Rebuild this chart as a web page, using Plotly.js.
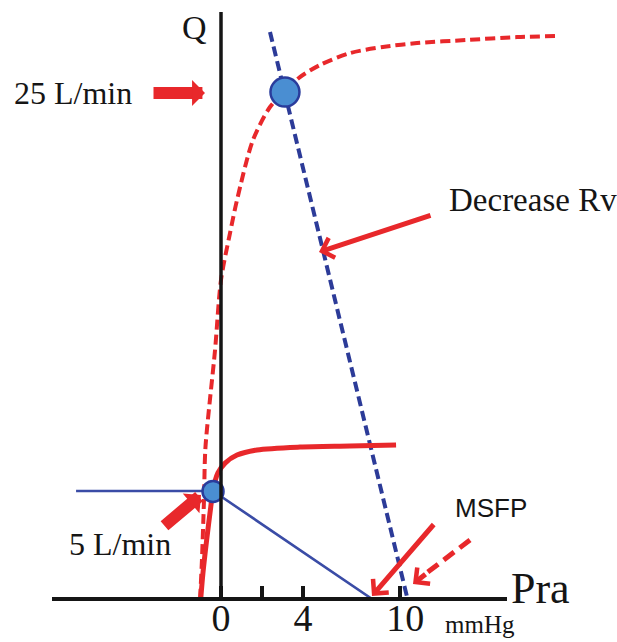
<!DOCTYPE html>
<html><head><meta charset="utf-8">
<script src="https://cdn.plot.ly/plotly-3.0.1.min.js"></script>
<style>html,body{margin:0;padding:0;background:#fff}#chart{width:617px;height:642px}</style>
</head><body><div id="chart"></div>
<script>
// Values: Pra in mmHg (x), Q in L/min (y)
const cardiacBaseX = [-0.99, -0.88, -0.70, -0.50, -0.39, -0.15, 0.20, 0.78, 1.76, 3.85, 6.29, 8.54];
const cardiacBaseY = [0.00, 1.27, 2.88, 4.49, 5.32, 6.15, 6.63, 7.02, 7.27, 7.41, 7.46, 7.51];
const cardiacHighX = [-1.02, -0.93, -0.83, -0.76, -0.29, 0.00, 0.44, 0.78, 1.56, 2.39, 3.12, 3.85, 4.83, 6.29, 7.90, 9.56, 12.0, 14.44, 16.39];
const cardiacHighY = [0.00, 1.90, 4.83, 7.37, 12.15, 15.56, 17.85, 19.46, 22.39, 24.00, 24.78, 25.46, 26.05, 26.63, 26.93, 27.12, 27.27, 27.41, 27.46];
const venousBaseX = [-7.07, -0.39, 7.37];
const venousBaseY = [5.27, 5.27, 0];
const venousNewX = [2.39, 9.10];
const venousNewY = [27.66, 0];
const equilibriumX = [-0.39, 3.12];
const equilibriumY = [5.25, 24.73];
const equilibriumSize = [21, 29];
const tickVals = [0, 2, 4, 8.75];
const tickText = ["0", "", "4", "\u00a010"];
const labels = {q: "Q", pra: "Pra", unit: "mmHg", high: "25 L/min", low: "5 L/min", rv: "Decrease Rv", msfp: "MSFP"};

// layout geometry (pixels)
const W = 617, H = 642, B = 43;
const PLOT_H = H - B;
const PX_PER = 20.5, X0PX = 221;
const px = v => v / W;                    // pixel x -> paper x
const py = v => (PLOT_H - v) / PLOT_H;    // pixel y -> paper y

const RED = "#e8282b", BLUE = "#3a4ca6", DBLUE = "#2c3b98", INK = "#151515";
const SERIF = "Liberation Serif, Times New Roman, serif";

const traces = [
  {x: venousNewX, y: venousNewY, mode: "lines", line: {color: DBLUE, width: 4, dash: "10px,5px"}, hoverinfo: "skip"},
  {x: cardiacHighX, y: cardiacHighY, mode: "lines", line: {color: RED, width: 4, dash: "10px,5px", shape: "spline", smoothing: 0.8}, hoverinfo: "skip"},
  {x: cardiacBaseX, y: cardiacBaseY, mode: "lines", line: {color: RED, width: 5, shape: "spline", smoothing: 0.8}, hoverinfo: "skip"},
  {x: venousBaseX, y: venousBaseY, mode: "lines", line: {color: BLUE, width: 2.6}, hoverinfo: "skip"},
  {x: equilibriumX, y: equilibriumY, mode: "markers", opacity: 1,
   marker: {size: equilibriumSize, opacity: 1, color: "#4a8ed2", line: {color: "#2a3c9c", width: 2.5}}, hoverinfo: "skip"}
];

function txt(t, x, y, size, extra) {
  return Object.assign({text: t, x: px(x), y: py(y), xref: "paper", yref: "paper", showarrow: false,
    xanchor: "center", yanchor: "middle", font: {family: SERIF, size: size, color: INK}}, extra || {});
}
function arrow(tipX, tipY, tailX, tailY, head, width, size) {
  return {text: "", x: px(tipX), y: py(tipY), xref: "paper", yref: "paper", showarrow: true,
    ax: tailX - tipX, ay: tailY - tipY, arrowhead: head, arrowwidth: width, arrowsize: size,
    arrowcolor: RED, standoff: 0, startstandoff: 0};
}

const annotations = [
  txt(labels.q, 194, 27, 34),
  txt(labels.high, 72.5, 92.5, 32),
  txt(labels.low, 120, 544, 32),
  txt(labels.rv, 447, 199.5, 33, {xanchor: "left"}),
  txt(labels.msfp, 491, 508, 26, {font: {family: "Liberation Sans, Arial, sans-serif", size: 26, color: INK}}),
  txt(labels.pra, 540, 588, 44),
  txt(labels.unit, 480, 624, 25),
  arrow(205, 93, 152, 93, 1, 12, 0.36),
  arrow(201, 495, 163, 527, 1, 12, 0.36),
  arrow(319, 252, 432, 215, 4, 5, 0.8),
  arrow(372, 596, 435, 523, 4, 5, 0.8),
  arrow(413, 584, 427, 573, 4, 5, 0.8)
];

const shapes = [
  {type: "line", xref: "paper", yref: "paper", x0: px(52), x1: px(507), y0: 0, y1: 0, line: {color: INK, width: 4}},
  {type: "line", xref: "x", yref: "paper", x0: 0, x1: 0, y0: 0, y1: py(12), line: {color: INK, width: 3.5}},
  {type: "line", xref: "paper", yref: "paper", x0: px(470), y0: py(540), x1: px(424), y1: py(575), line: {color: RED, width: 5, dash: "13px,7px"}}
];

const layout = {
  width: W, height: H,
  margin: {l: 0, r: 0, t: 0, b: B, pad: 0},
  paper_bgcolor: "#fff", plot_bgcolor: "#fff",
  showlegend: false,
  xaxis: {range: [-X0PX / PX_PER, (W - X0PX) / PX_PER], showgrid: false, zeroline: false, showline: false,
    ticks: "inside", ticklen: 13, tickwidth: 4, tickcolor: INK,
    tickmode: "array", tickvals: tickVals, ticktext: tickText,
    tickfont: {family: SERIF, size: 38, color: INK}, ticklabelstandoff: -7, fixedrange: true},
  yaxis: {range: [0, PLOT_H / PX_PER], visible: false, fixedrange: true},
  shapes: shapes,
  annotations: annotations
};

Plotly.newPlot("chart", traces, layout, {displayModeBar: false, staticPlot: true});
</script>
</body></html>
